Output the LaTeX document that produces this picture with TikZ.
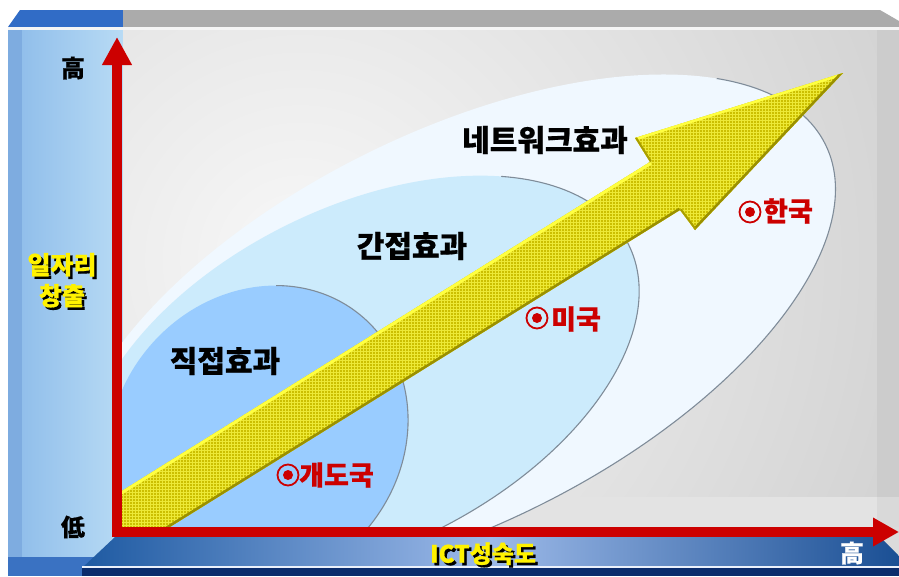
\documentclass[tikz,border=0pt]{standalone}
\usepackage{fontspec}
\newfontfamily\kr{Noto Sans CJK KR}[BoldFeatures={FakeBold=0.6}]
\usetikzlibrary{arrows.meta,patterns}
\definecolor{cred}{HTML}{CC0000}
\definecolor{topblue}{HTML}{316CC6}
\definecolor{topgray}{HTML}{ABABAB}
\definecolor{panelbase}{HTML}{D4D4D4}
\definecolor{lpanelL}{HTML}{8CBBE9}
\definecolor{lpanelR}{HTML}{B8DBF5}
\definecolor{lstrip}{HTML}{7EACE0}
\definecolor{lbottom}{HTML}{3A72C2}
\definecolor{barL}{HTML}{1E5AA2}
\definecolor{barM}{HTML}{9DBAE9}
\definecolor{barR}{HTML}{1A4F94}
\definecolor{navy}{HTML}{0B2C6C}
\definecolor{ellO}{HTML}{F0F8FF}
\definecolor{ellM}{HTML}{CCEBFC}
\definecolor{ellI}{HTML}{99CCFF}
\definecolor{ellEdge}{HTML}{7F8C99}
\definecolor{arrBase}{HTML}{CCBF00}
\definecolor{arrGrid}{HTML}{EDE936}
\definecolor{arrHi}{HTML}{FFFF40}
\definecolor{arrLo}{HTML}{9A9000}
\def\arrowpath{(80,517) -- (650,162) -- (635,138) -- (843,73) -- (695,230) -- (680,210) -- (120,558) -- cycle}
\newcommand\shtext[1]{\makebox[0pt][l]{\hspace*{2.5pt}\raisebox{-2.5pt}{\color{black}#1}}{\color{yellow}#1}}
\begin{document}
\begin{tikzpicture}[x=1pt,y=-1pt,
  lbl/.style={font=\kr\bfseries\fontsize{30pt}{32pt}\selectfont, inner sep=0pt, text=black},
  ctry/.style={font=\kr\bfseries\fontsize{27pt}{29pt}\selectfont, inner sep=0pt, text=cred, anchor=west},
  bull/.style={circle, draw=cred, line width=1.8pt, minimum size=21pt, inner sep=0pt},
  axl/.style={font=\kr\bfseries\fontsize{24pt}{26pt}\selectfont, inner sep=0pt},
  ylbl/.style={font=\kr\bfseries\fontsize{25pt}{27pt}\selectfont, inner sep=0pt},
  edge/.style={draw=ellEdge, line width=1.1pt},
  ellOT/.style={shift={(452,330)}, rotate=26.45},
  ellMT/.style={shift={(361,378)}, rotate=26.5},
  ellIT/.style={shift={(258,438)}, rotate=48.8}]
\useasboundingbox (0,0) rectangle (899,576);
\fill[white] (0,0) rectangle (899,576);
% top strip
\fill[topblue] (8,27) -- (20,10) -- (123,10) -- (123,27) -- cycle;
\fill[topgray] (123,10) -- (880,10) -- (899,21) -- (899,27) -- (123,27) -- cycle;
\fill[white!92!gray] (8,27) rectangle (899,30);
% left panel
\shade[left color=lpanelL, right color=lpanelR] (8,30) rectangle (123,557);
\fill[lstrip] (8,30) rectangle (22,557);
\fill[lbottom] (8,557) rectangle (100,576);
% main panel
\fill[panelbase] (123,30) rectangle (877,497);
\begin{scope}
\clip (123,30) rectangle (877,497);
\shade[inner color=white!97!black, outer color=panelbase] (300,260) circle (620pt);
\end{scope}
\fill[black!20] (877,30) rectangle (899,497);
\fill[black!11] (123,497) rectangle (899,527);
\fill[black!15] (877,497) rectangle (899,527);
% bottom bar
\fill[black!14] (877,527) rectangle (899,568);
\shade[left color=barL, right color=barR, middle color=barM] (82,568) -- (115,537) -- (880,537) -- (899,556) -- (899,568) -- cycle;
\fill[white!80!barM] (82,566) rectangle (899,568);
\fill[navy] (82,568) rectangle (899,576);
% ellipses
\begin{scope}
\clip (118,28) rectangle (899,532);
\fill[ellO, ellOT] (0,0) ellipse (417pt and 196pt);
\begin{scope}
\clip (760,0) -- (950,0) -- (950,600) -- (430,600) -- cycle;
\draw[edge, ellOT] (0,0) ellipse (417pt and 196pt);
\end{scope}
\fill[ellM, ellMT] (0,0) ellipse (299pt and 170pt);
\begin{scope}
\clip (560,0) -- (950,0) -- (950,600) -- (360,600) -- cycle;
\draw[edge, ellMT] (0,0) ellipse (299pt and 170pt);
\end{scope}
\fill[ellI, ellIT] (0,0) ellipse (160pt and 142pt);
\begin{scope}
\clip (300,0) -- (950,0) -- (950,600) -- (250,600) -- cycle;
\draw[edge, ellIT] (0,0) ellipse (160pt and 142pt);
\end{scope}
% arrow
\path[preaction={fill=arrBase}, pattern=grid, pattern color=arrGrid] \arrowpath;
\begin{scope}
\clip \arrowpath;
\draw[arrHi, line width=6pt] (80,517) -- (650,162);
\draw[arrHi, line width=5pt] (635,138) -- (843,73);
\draw[arrLo, line width=5pt] (120,558) -- (680,210) (695,230) -- (843,73);
\draw[arrLo!70!arrBase, line width=4pt] (680,210) -- (695,230) (650,162) -- (635,138);
\end{scope}
\end{scope}
% labels
\node[lbl] (net) at (545,140) {네트워크효과};
\node[lbl] (indirect) at (412,246) {간접효과};
\node[lbl] (direct) at (225,361) {직접효과};
\node[bull] (b1) at (288,475) {};
\fill[cred] (b1.center) circle (5pt);
\node[ctry] (dev) at (299,475) {개도국};
\node[bull] (b2) at (537,318) {};
\fill[cred] (b2.center) circle (5pt);
\node[ctry] (us) at (551,319) {미국};
\node[bull] (b3) at (750,212) {};
\fill[cred] (b3.center) circle (5pt);
\node[ctry] (kor) at (763,211) {한국};
% axis labels
\node[axl, text=black] (hi) at (73,68) {高};
\node[axl, text=black] (lo) at (73,527) {低};
\node[axl, text=white] (hix) at (852,553) {高};
\node[ylbl] (y1) at (62,266) {\shtext{일자리}};
\node[ylbl] (y2) at (62,297) {\shtext{창출}};
\node[axl] (xl) at (483,555) {\shtext{ICT성숙도}};
% axes
\coordinate (ytip) at (117,37);
\coordinate (orig) at (117,532);
\coordinate (xtip) at (899,532);
\draw[cred, line width=10pt, line join=miter, {Triangle[length=28pt,width=28pt]}-{Triangle[length=26pt,width=27pt]}] (ytip) -- (orig) -- (xtip);
\end{tikzpicture}
\end{document}
